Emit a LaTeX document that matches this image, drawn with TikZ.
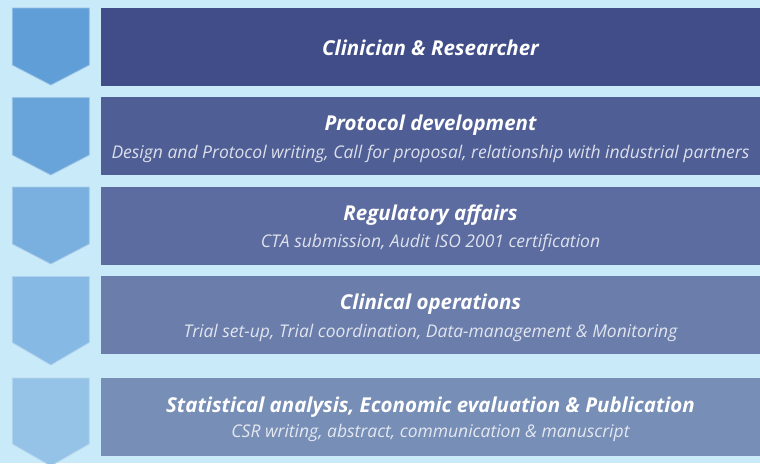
\documentclass[tikz,border=0pt]{standalone}
\usepackage{fontspec}
\setmainfont{Open Sans}
\begin{document}
\begin{tikzpicture}[x=1pt,y=-1pt,
  rectbox/.style={rectangle,inner sep=0pt,minimum width=659pt,minimum height=78pt,anchor=north west},
  titletext/.style={anchor=base,text=white,font=\fontsize{20.5}{23}\selectfont\bfseries\itshape,inner sep=0pt},
  subtext/.style={anchor=base,font=\fontsize{17.5}{20}\selectfont\itshape,inner sep=0pt}]
\definecolor{bg}{HTML}{C9EAF9}
\definecolor{rA}{HTML}{414D89}
\definecolor{rB}{HTML}{4F5F96}
\definecolor{rC}{HTML}{5C6CA0}
\definecolor{rD}{HTML}{6A7DAB}
\definecolor{rE}{HTML}{778EB7}
\definecolor{cA}{HTML}{5F9ED6}
\definecolor{cB}{HTML}{68A4D9}
\definecolor{cC}{HTML}{7AB0DF}
\definecolor{cD}{HTML}{86B9E3}
\definecolor{cE}{HTML}{94C3E7}
\useasboundingbox (0,0) rectangle (760,463);
\fill[bg] (0,0) rectangle (760,463);
\begin{scope}
\clip (0,0) rectangle (760,463);
% chevrons
\foreach \t/\s/\p/\c in {8/65/85/cA, 97.5/155/175/cB, 187/244/264/cC, 276.5/342.5/365/cD, 378/444/466/cE}{
  \fill[\c,draw=white!35!\c,line width=0.8pt] (12.3,\t) -- (89.3,\t) -- (89.3,\s) -- (50.8,\p) -- (12.3,\s) -- cycle;
}
\end{scope}
% rectangles
\node[rectbox,fill=rA] (r1) at (101,8) {};
\node[rectbox,fill=rB] (r2) at (101,97) {};
\node[rectbox,fill=rC] (r3) at (101,186.5) {};
\node[rectbox,fill=rD] (r4) at (101,276) {};
\node[rectbox,fill=rE] (r5) at (101,378) {};
% texts
\node[titletext] (t1) at (430.5,55) {Clinician \& Researcher};
\node[titletext] (t2) at (430.5,130) {Protocol development};
\node[subtext,text=white!80!rB] (s2) at (430.5,158) {Design and Protocol writing, Call for proposal, relationship with industrial partners};
\node[titletext] (t3) at (430.5,220) {Regulatory affairs};
\node[subtext,text=white!80!rC] (s3) at (430.5,247.5) {CTA submission, Audit ISO 2001 certification};
\node[titletext] (t4) at (430.5,309.5) {Clinical operations};
\node[subtext,text=white!80!rD] (s4) at (430.5,337) {Trial set-up, Trial coordination, Data-management \& Monitoring};
\node[titletext] (t5) at (430.5,412) {Statistical analysis, Economic evaluation \& Publication};
\node[subtext,text=white!80!rE] (s5) at (430.5,437) {CSR writing, abstract, communication \& manuscript};
\end{tikzpicture}
\end{document}
